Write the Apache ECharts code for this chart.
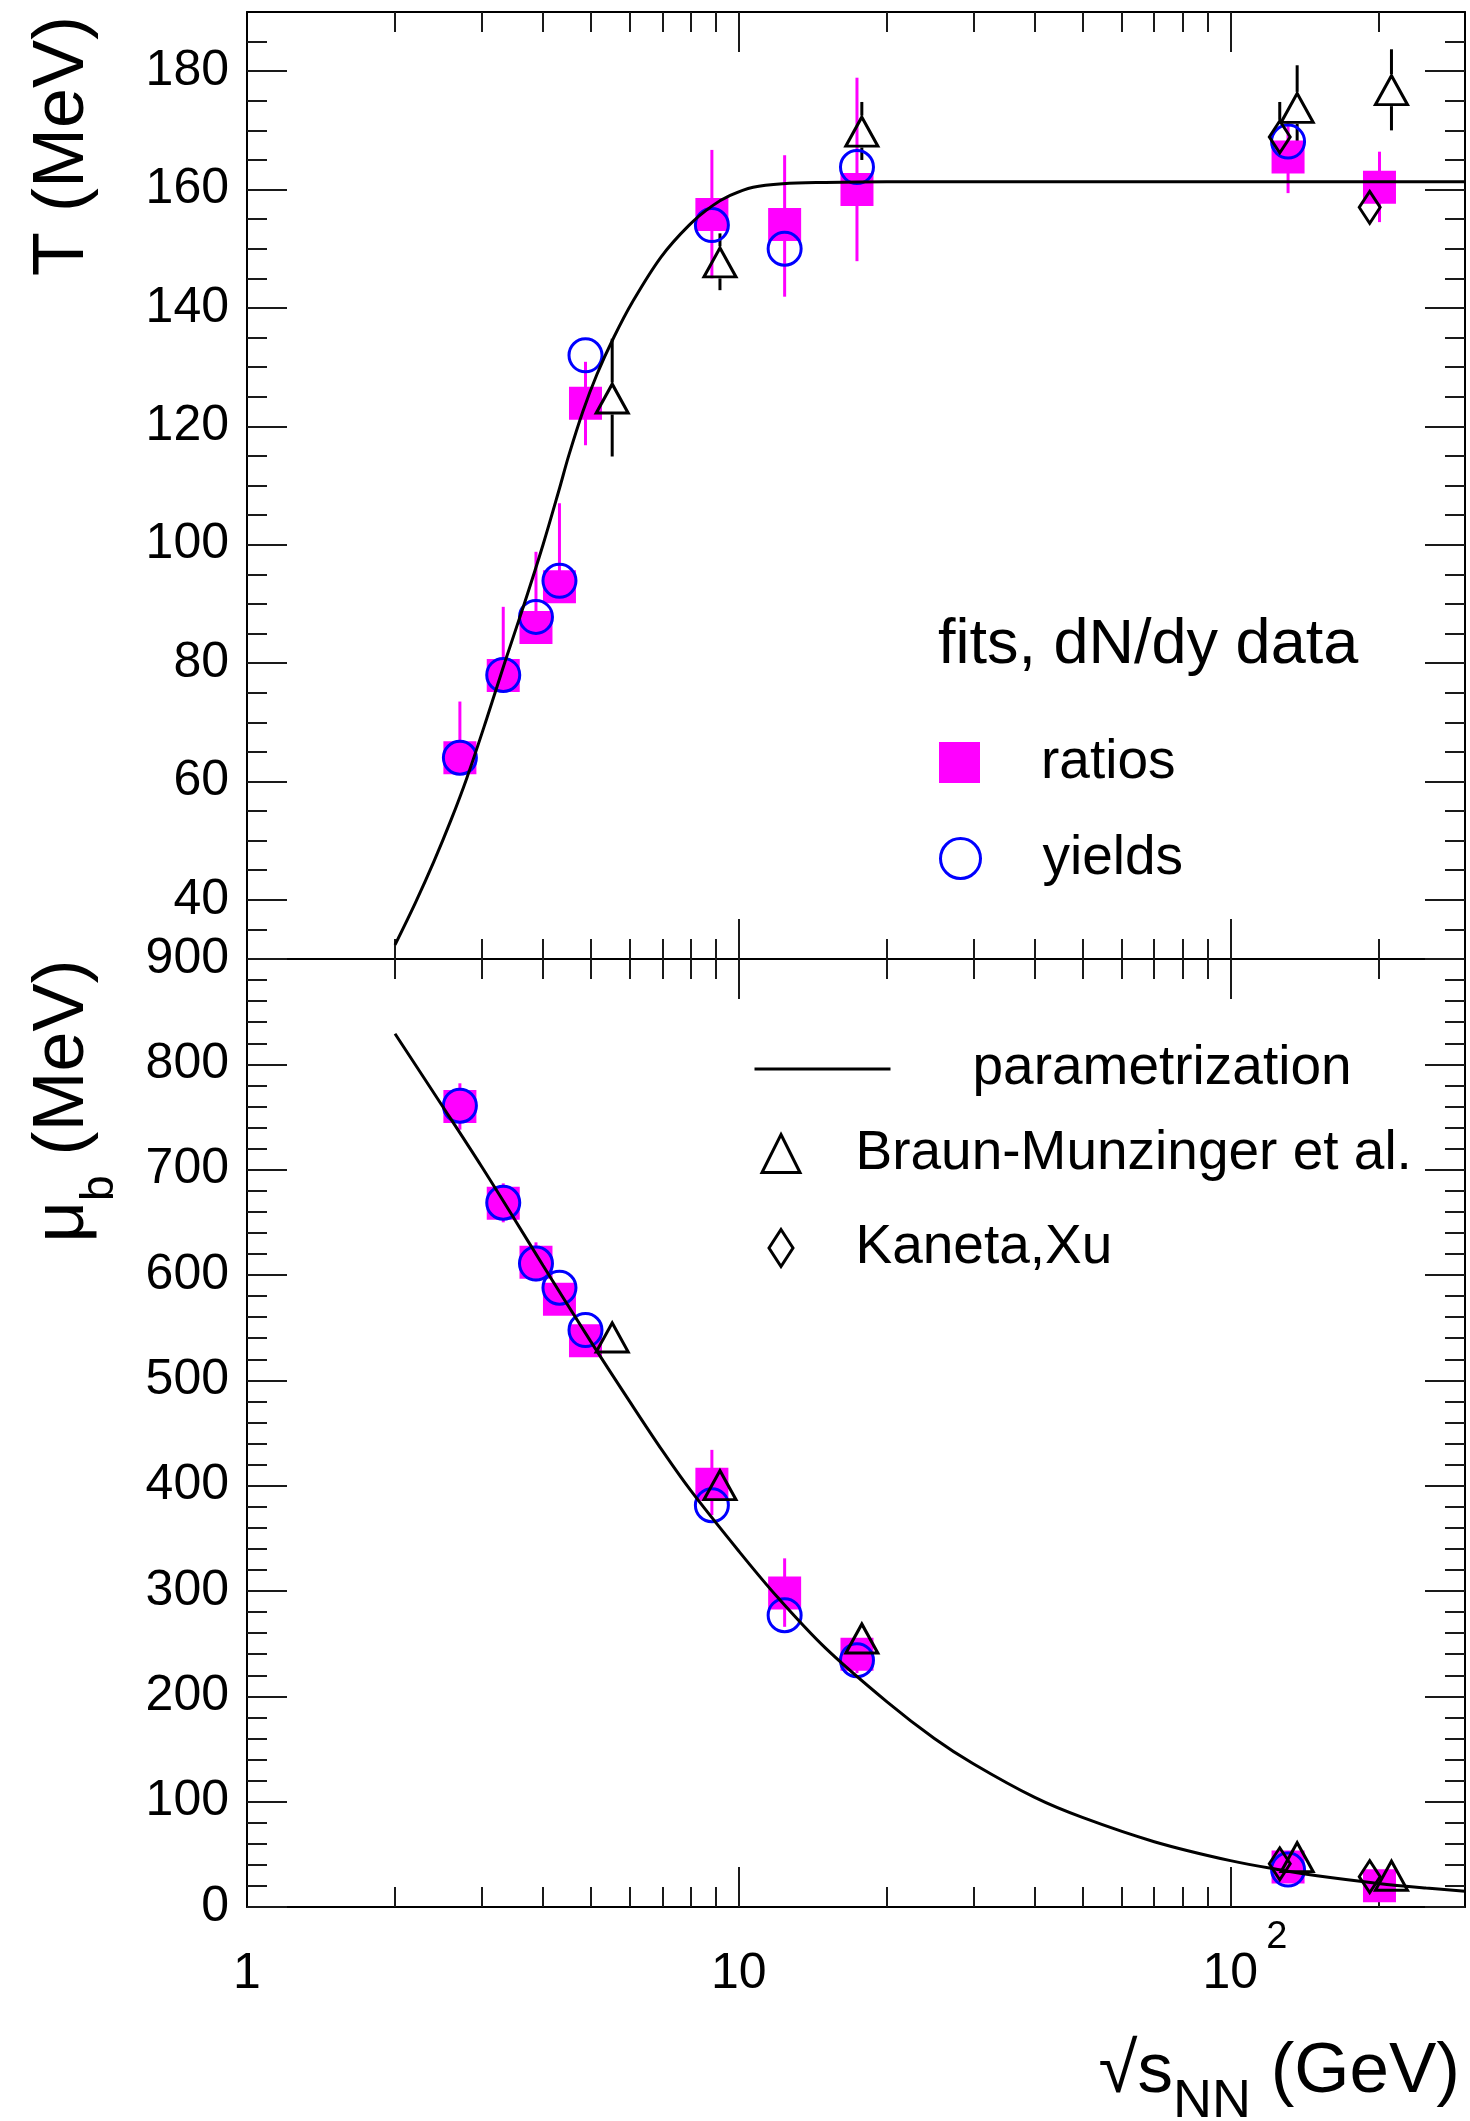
<!DOCTYPE html>
<html>
<head>
<meta charset="utf-8">
<script src="https://cdn.jsdelivr.net/npm/echarts@6.0.0/dist/echarts.min.js"></script>
<style>
html,body{margin:0;padding:0;background:#ffffff;}
#chart{width:1470px;height:2121px;}
</style>
</head>
<body>
<div id="chart"></div>
<script>
// ---------------- data ----------------
// fits to particle ratios (filled magenta squares)
const ratioX    = [2.71, 3.32, 3.87, 4.32, 4.88, 8.82, 12.4, 17.4, 131, 201];
const ratioT    = [64.0, 77.9, 86.0, 92.9, 123.9, 155.8, 154.1, 160.0, 165.5, 160.4];
const ratioTLo  = [64.0, 77.9, 86.0, 92.9, 116.8, 145.0, 141.9, 147.9, 159.4, 154.5];
const ratioTHi  = [73.5, 89.5, 98.8, 107.0, 130.9, 166.7, 165.8, 178.9, 171.6, 166.4];
const ratioMu   = [760, 668, 612, 577, 537.5, 401.4, 298.2, 240, 38, 20.2];
const ratioMuLo = [738, 650, 594, 577, 537.5, 372, 266, 222, 38, 20.2];
const ratioMuHi = [782, 687, 631, 577, 537.5, 434, 331, 252, 38, 20.2];

// fits to yields (open blue circles)
const yieldX  = [2.71, 3.32, 3.87, 4.32, 4.88, 8.82, 12.4, 17.4, 131];
const yieldT  = [64.0, 78.0, 87.8, 93.9, 132.0, 154.0, 150.0, 163.8, 168.1];
const yieldMu = [760.7, 668.6, 610.9, 587.9, 547.7, 381.5, 277, 234.3, 35.5];

// Braun-Munzinger et al. (open triangles)
const bmX   = [5.53, 9.16, 17.8, 136.7, 212.6];
const bmT   = [124.7, 147.7, 169.8, 173.8, 176.8];
const bmTLo = [114.9, 143.0, 165.0, 166.9, 170.0];
const bmTHi = [134.8, 152.6, 174.8, 181.0, 183.7];
const bmMu  = [540.7, 400.5, 254.9, 47.3, 29.7];

// Kaneta, Xu (open diamonds)
const kxX   = [126, 192];
const kxT   = [168.9, 157.0];
const kxTLo = [163.0, 157.0];
const kxTHi = [174.8, 157.0];
const kxMu  = [41, 28.8];

// parametrization curves
const fitTX = [2.0, 2.2, 2.4, 2.6, 2.8, 3.07, 3.35, 3.66, 4.0, 4.32, 4.51, 4.82, 5.15, 5.57, 6.08, 6.95, 7.93, 8.82, 9.61, 10.7, 12.3, 15, 20, 30, 50, 100, 200, 300];
const fitT  = [32.4, 39.5, 46.5, 53.5, 60.6, 70.5, 80.3, 89.9, 100, 109.5, 115, 122.5, 128.8, 135, 141, 148.6, 154, 157.2, 159, 160.4, 161, 161.2, 161.3, 161.3, 161.3, 161.3, 161.3, 161.3];
const fitMuX = [2.0, 2.5, 3.0, 3.5, 4.0, 5.0, 6.0, 7.0, 8.0, 10, 12, 15, 20, 25, 30, 40, 50, 70, 100, 130, 150, 200, 250, 300];
const fitMu  = [829, 760, 703, 653, 609, 537, 480, 433, 395, 338, 294, 246, 195, 160, 136, 104, 85, 62, 44, 34.2, 29.7, 22.4, 18.0, 15.0];

// axes / ticks
const xMin = 1, xMax = 300;
const xTickValues = [1, 10, 100];
const xTickLabels = ['1', '10', '10'];
const xTickSup    = ['', '', '2'];
const xMajorTicks = [10, 100];
const xMinorTicks = [2, 3, 4, 5, 6, 7, 8, 9, 20, 30, 40, 50, 60, 70, 80, 90, 200];
const tMin = 30, tMax = 190;
const tTicks = [40, 60, 80, 100, 120, 140, 160, 180];
const muMin = 0, muMax = 900;
const muTicks = [0, 100, 200, 300, 400, 500, 600, 700, 800, 900];

const tMinor = [];
for (let v = 35; v <= 185; v += 5) if (v % 20 !== 0) tMinor.push(v);
const muMinor = [];
for (let v = 20; v < 900; v += 20) if (v % 100 !== 0) muMinor.push(v);

// ---------------- styling ----------------
const FONT = "'Liberation Sans', Arial, Helvetica, sans-serif";
const TICK = {color: '#1a1a1a', width: 2};

function xAx(grid, pos, ticks, len, showLine, withLabels) {
  const ax = {
    type: 'log', logBase: 10, gridIndex: grid, position: pos, min: xMin, max: xMax,
    axisLine: {show: showLine, onZero: false, lineStyle: {color: '#000', width: 2}},
    axisTick: {show: true, inside: true, length: len, customValues: ticks, lineStyle: TICK},
    axisLabel: {show: false},
    splitLine: {show: false}, minorTick: {show: false}, minorSplitLine: {show: false}
  };
  if (withLabels) {
    ax.axisLabel = {
      show: true, customValues: xTickValues, margin: 12, color: '#000', fontFamily: FONT, fontSize: 50,
      formatter: function (v) {
        let i = 0;
        for (let k = 0; k < xTickValues.length; k++) if (Math.abs(xTickValues[k] - v) < 1e-6 * xTickValues[k]) i = k;
        if (xTickSup[i]) return '{c|' + xTickLabels[i] + '}{s|' + xTickSup[i] + '}';
        return '{a|' + xTickLabels[i] + '}';
      },
      rich: {
        a: {fontSize: 50, fontFamily: FONT, color: '#000', lineHeight: 110},
        c: {fontSize: 50, fontFamily: FONT, color: '#000', lineHeight: 110, padding: [0, 0, 0, 29]},
        s: {fontSize: 38, fontFamily: FONT, color: '#000', padding: [0, 0, 72, 8]}
      }
    };
  }
  return ax;
}

function yAx(grid, pos, min, max, ticks, len, showLine, withLabels) {
  return {
    type: 'value', gridIndex: grid, position: pos, min: min, max: max,
    axisLine: {show: showLine, onZero: false, lineStyle: {color: '#000', width: 2}},
    axisTick: {show: true, inside: true, length: len, customValues: ticks, lineStyle: TICK},
    axisLabel: withLabels ? {show: true, customValues: ticks, margin: 18, color: '#000', fontFamily: FONT, fontSize: 50} : {show: false},
    splitLine: {show: false}, minorTick: {show: false}, minorSplitLine: {show: false}
  };
}

function errRender(color, gap) {
  return function (params, api) {
    const x = api.value(0), lo = api.value(1), hi = api.value(2), c = api.value(3);
    const children = [];
    if (hi > lo) {
      const pH = api.coord([x, hi]), pL = api.coord([x, lo]), pC = api.coord([x, c]);
      if (pH[1] < pC[1] - gap) children.push({type: 'line', shape: {x1: pH[0], y1: pH[1], x2: pC[0], y2: pC[1] - gap}, style: {stroke: color, lineWidth: 3}});
      if (pL[1] > pC[1] + gap) children.push({type: 'line', shape: {x1: pC[0], y1: pC[1] + gap, x2: pL[0], y2: pL[1]}, style: {stroke: color, lineWidth: 3}});
    }
    return {type: 'group', children: children};
  };
}

function zip2(xs, ys) { return xs.map((x, i) => [x, ys[i]]); }
function zip4(xs, lo, hi, c) { return xs.map((x, i) => [x, lo[i], hi[i], c[i]]); }

const MAGENTA = '#ff00ff', BLUE = '#0000ff', CLEAR = 'rgba(0,0,0,0)';

function panelSeries(xi, yi, vals) {
  return [
    {type: 'custom', xAxisIndex: xi, yAxisIndex: yi, silent: true, clip: false, encode: {x: 0, y: 1},
     renderItem: errRender(MAGENTA, 0), data: zip4(ratioX, vals.rLo, vals.rHi, vals.r)},
    {type: 'scatter', name: 'ratios', xAxisIndex: xi, yAxisIndex: yi, silent: true, symbol: 'rect', symbolSize: 33,
     itemStyle: {color: MAGENTA, opacity: 1}, data: zip2(ratioX, vals.r)},
    {type: 'line', name: 'parametrization', xAxisIndex: xi, yAxisIndex: yi, silent: true, symbol: 'none', showSymbol: false,
     smooth: 0.35, lineStyle: {color: '#000', width: 3}, itemStyle: {color: '#000'}, data: zip2(vals.fx, vals.f)},
    {type: 'scatter', name: 'yields', xAxisIndex: xi, yAxisIndex: yi, silent: true, symbol: 'circle', symbolSize: 33,
     itemStyle: {color: CLEAR, borderColor: BLUE, borderWidth: 3, opacity: 1}, data: zip2(yieldX, vals.y)},
    {type: 'custom', xAxisIndex: xi, yAxisIndex: yi, silent: true, clip: false, encode: {x: 0, y: 1},
     renderItem: errRender('#000', 16), data: zip4(bmX, vals.bLo, vals.bHi, vals.b)},
    {type: 'scatter', name: 'Braun-Munzinger et al.', xAxisIndex: xi, yAxisIndex: yi, silent: true, symbol: 'triangle', symbolSize: [32, 29],
     itemStyle: {color: CLEAR, borderColor: '#000', borderWidth: 3, opacity: 1}, data: zip2(bmX, vals.b)},
    {type: 'custom', xAxisIndex: xi, yAxisIndex: yi, silent: true, clip: false, encode: {x: 0, y: 1},
     renderItem: errRender('#000', 17), data: zip4(kxX, vals.kLo, vals.kHi, vals.k)},
    {type: 'scatter', name: 'Kaneta,Xu', xAxisIndex: xi, yAxisIndex: yi, silent: true, symbol: 'diamond', symbolSize: [21, 32],
     itemStyle: {color: CLEAR, borderColor: '#000', borderWidth: 3, opacity: 1}, data: zip2(kxX, vals.k)}
  ];
}

const topSeries = panelSeries(0, 0, {
  r: ratioT, rLo: ratioTLo, rHi: ratioTHi, y: yieldT, fx: fitTX, f: fitT,
  b: bmT, bLo: bmTLo, bHi: bmTHi, k: kxT, kLo: kxTLo, kHi: kxTHi
});
const botSeries = panelSeries(4, 4, {
  r: ratioMu, rLo: ratioMuLo, rHi: ratioMuHi, y: yieldMu, fx: fitMuX, f: fitMu,
  b: bmMu, bLo: bmMu, bHi: bmMu, k: kxMu, kLo: kxMu, kHi: kxMu
});

const LEG_DY = 5;
function legendItem(name, icon, left, centerY, w, h, textX, extra) {
  const item = {name: name};
  if (icon) item.icon = icon;
  return Object.assign({
    data: [item], orient: 'vertical', left: left, top: centerY + LEG_DY - 30,
    itemWidth: w, itemHeight: h, padding: 0, selectedMode: false, symbolKeepAspect: false,
    textStyle: {fontFamily: FONT, fontSize: 55, color: '#000', lineHeight: 60, padding: [0, 0, 0, textX - (left + w + 5)]}
  }, extra || {});
}

const option = {
  animation: false,
  backgroundColor: '#ffffff',
  textStyle: {fontFamily: FONT},
  grid: [
    {left: 247, top: 12, width: 1218, height: 947, outerBoundsMode: 'none', containLabel: false},
    {left: 247, top: 959, width: 1218, height: 948, outerBoundsMode: 'none', containLabel: false}
  ],
  xAxis: [
    xAx(0, 'bottom', xMajorTicks, 40, true, false),
    xAx(0, 'bottom', xMinorTicks, 20, false, false),
    xAx(0, 'top', xMajorTicks, 40, true, false),
    xAx(0, 'top', xMinorTicks, 20, false, false),
    xAx(1, 'bottom', xMajorTicks, 40, true, true),
    xAx(1, 'bottom', xMinorTicks, 20, false, false),
    xAx(1, 'top', xMajorTicks, 40, true, false),
    xAx(1, 'top', xMinorTicks, 20, false, false)
  ],
  yAxis: [
    yAx(0, 'left', tMin, tMax, tTicks, 40, true, true),
    yAx(0, 'left', tMin, tMax, tMinor, 20, false, false),
    yAx(0, 'right', tMin, tMax, tTicks, 40, true, false),
    yAx(0, 'right', tMin, tMax, tMinor, 20, false, false),
    yAx(1, 'left', muMin, muMax, muTicks, 40, true, true),
    yAx(1, 'left', muMin, muMax, muMinor, 20, false, false),
    yAx(1, 'right', muMin, muMax, muTicks, 40, true, false),
    yAx(1, 'right', muMin, muMax, muMinor, 20, false, false)
  ],
  legend: [
    legendItem('ratios', 'rect', 939, 757.5, 41, 41, 1041, {itemStyle: {borderWidth: 0}}),
    legendItem('yields', 'circle', 939, 853.5, 40, 40, 1041, {itemStyle: {borderWidth: 3}}),
    legendItem('parametrization', null, 753, 1064, 136, 2, 971,
      {lineStyle: {width: 3, color: '#000'}, itemStyle: {color: CLEAR, borderColor: CLEAR, borderWidth: 0, opacity: 0}}),
    legendItem('Braun-Munzinger et al.', 'triangle', 760.5, 1148.5, 38, 38, 854, {itemStyle: {borderWidth: 3}}),
    legendItem('Kaneta,Xu', 'diamond', 767.5, 1243, 24, 37, 854, {itemStyle: {borderWidth: 3}})
  ],
  graphic: [
    {type: 'text', x: 63, y: 146, rotation: Math.PI / 2, silent: true,
     style: {text: 'T (MeV)', fontSize: 72, fontFamily: FONT, fill: '#000', align: 'center', verticalAlign: 'middle', textAlign: 'center', textVerticalAlign: 'middle'}},
    {type: 'text', x: 63, y: 1101, rotation: Math.PI / 2, silent: true,
     style: {text: '{m|\u03bc}{b|b}{m| (MeV)}', fill: '#000', align: 'center', verticalAlign: 'middle', textAlign: 'center', textVerticalAlign: 'middle',
             rich: {m: {fontSize: 72, fontFamily: FONT, fill: '#000'}, b: {fontSize: 46, fontFamily: FONT, fill: '#000', padding: [74, 0, 0, 0]}}}},
    {type: 'text', x: 1460, y: 2072, silent: true,
     style: {text: '{m|\u221as}{b|NN}{m| (GeV)}', fill: '#000', align: 'right', verticalAlign: 'middle', textAlign: 'right', textVerticalAlign: 'middle',
             rich: {m: {fontSize: 71, fontFamily: FONT, fill: '#000'}, b: {fontSize: 54, fontFamily: FONT, fill: '#000', padding: [60, 0, 0, 0]}}}},
    {type: 'text', x: 938, y: 641 + LEG_DY, silent: true,
     style: {text: 'fits, dN/dy data', fontSize: 63, fontFamily: FONT, fill: '#000', align: 'left', verticalAlign: 'middle', textAlign: 'left', textVerticalAlign: 'middle'}}
  ],
  series: topSeries.concat(botSeries)
};

const chart = echarts.init(document.getElementById('chart'), null, {renderer: 'canvas', width: 1470, height: 2121});
chart.setOption(option);
</script>
</body>
</html>
